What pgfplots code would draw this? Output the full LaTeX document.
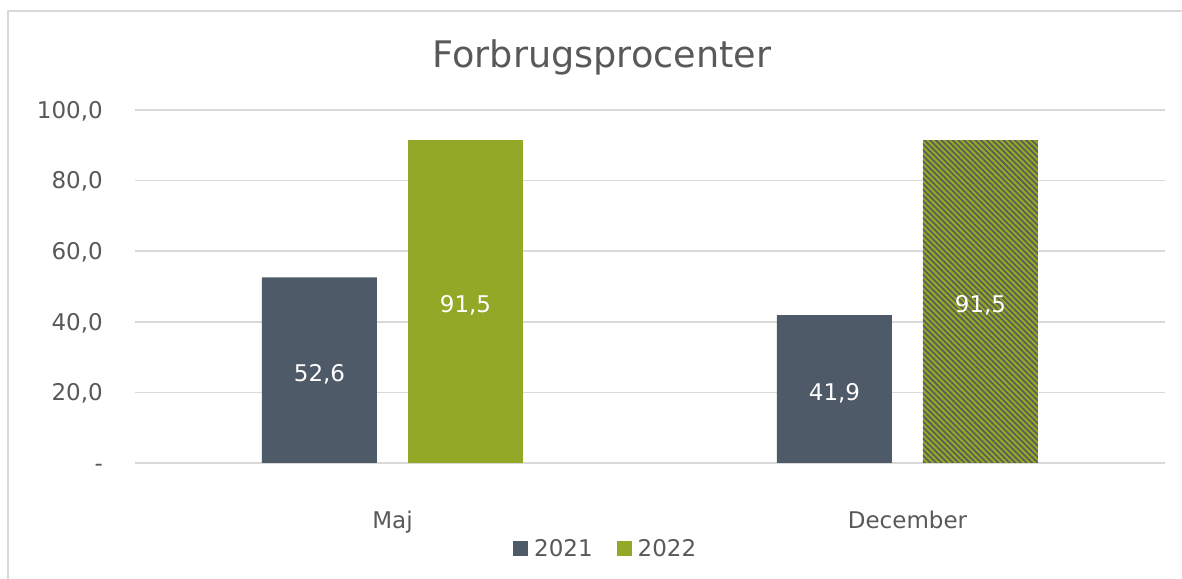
\documentclass[border=0pt]{standalone}
\usepackage{fontspec}
\setmainfont{DejaVu Sans}
\usepackage{pgfplots}
\usepackage{pgfplotstable}
\pgfplotsset{compat=1.18}
\usetikzlibrary{patterns.meta}
\definecolor{c2021}{HTML}{4E5A68}
\definecolor{c2022}{HTML}{93A826}
\definecolor{hatchc}{HTML}{565A5E}
\definecolor{txtc}{HTML}{595959}
\definecolor{gridc}{HTML}{D9D9D9}
\pgfplotstableread{
x v
0 52.6
1 41.9
}\dataA
\pgfplotstableread{
x v
0 91.5
}\dataB
\pgfplotstableread{
x v
1 91.5
}\dataC
\begin{document}
\begin{tikzpicture}
\useasboundingbox (0,0) rectangle (1182bp,579bp);
\fill[white] (0,0) rectangle (1182bp,579bp);
\draw[gridc, line width=1.5bp] (8bp,-20bp) -- (8bp,568bp) -- (1200bp,568bp);
\node[anchor=base, text=txtc, font=\fontsize{36.6bp}{40bp}\selectfont] at (602bp,511bp) {Forbrugsprocenter};
\begin{axis}[
  at={(135bp,116bp)}, anchor=south west,
  scale only axis, width=1030bp, height=353bp,
  xmin=-0.5, xmax=1.5, ymin=0, ymax=100,
  axis line style={draw=none},
  major tick length=0pt,
  ytick={0,20,40,60,80,100},
  yticklabels={{-\hspace{18bp}},{20,0},{40,0},{60,0},{80,0},{100,0}},
  xtick={0,1},
  xticklabels={Maj,December},
  xmajorgrids=false,
  ymajorgrids=true,
  y grid style={draw=gridc, line width=1.5bp},
  tick label style={text=txtc, font=\fontsize{23bp}{27bp}\selectfont, inner sep=0pt},
  yticklabel style={anchor=base east, xshift=-32bp, yshift=-8.4bp},
  xticklabel style={anchor=base, yshift=-65bp},
  clip=false,
  legend columns=2,
  legend style={at={(0.457,-0.2436)}, anchor=center, draw=none, fill=none,
    font=\fontsize{23bp}{27bp}\selectfont, text=txtc,
    /tikz/every odd column/.append style={column sep=4bp},
    /tikz/every even column/.append style={column sep=22bp},
    inner sep=0pt},
  legend image code/.code={\fill[#1] (0bp,-7.5bp) rectangle (15bp,7.5bp);},
  nodes near coords style={text=white, font=\fontsize{23bp}{27bp}\selectfont, anchor=center},
]
\addplot[ybar, bar width=115bp, bar shift=-73bp, fill=c2021, draw=none,
  visualization depends on={rawy \as \rawy},
  nodes near coords={\pgfmathprintnumber[fixed, fixed zerofill, precision=1, use comma, assume math mode=true]{\rawy}},
  every node near coord/.append style={xshift=-73bp, yshift=-1.765bp*\rawy-4bp}]
  table[x=x, y=v] {\dataA};
\addlegendentry{2021}
\addplot[ybar, bar width=115bp, bar shift=73bp, fill=c2022, draw=none,
  visualization depends on={rawy \as \rawy},
  nodes near coords={\pgfmathprintnumber[fixed, fixed zerofill, precision=1, use comma, assume math mode=true]{\rawy}},
  every node near coord/.append style={xshift=73bp, yshift=-1.765bp*\rawy-4bp}]
  table[x=x, y=v] {\dataB};
\addlegendentry{2022}
\addplot[ybar, bar width=115bp, bar shift=73bp, fill=c2022, draw=none, forget plot,
  postaction={pattern={Lines[angle=-45, distance=4bp, line width=1.6bp]}, pattern color=hatchc},
  visualization depends on={rawy \as \rawy},
  nodes near coords={\pgfmathprintnumber[fixed, fixed zerofill, precision=1, use comma, assume math mode=true]{\rawy}},
  every node near coord/.append style={xshift=73bp, yshift=-1.765bp*\rawy-4bp}]
  table[x=x, y=v] {\dataC};
\end{axis}
\end{tikzpicture}
\end{document}
